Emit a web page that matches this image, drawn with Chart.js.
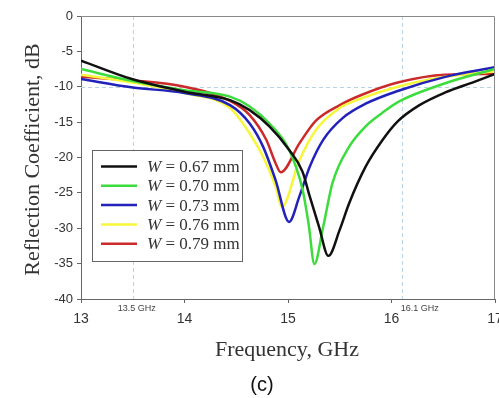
<!DOCTYPE html>
<html>
<head>
<meta charset="utf-8">
<script src="https://cdn.jsdelivr.net/npm/chart.js@4.4.0/dist/chart.umd.min.js"></script>
<style>
  html, body { margin: 0; padding: 0; background: #fff; }
  #wrap { width: 499px; height: 398px; position: relative; }
</style>
</head>
<body>
<div id="wrap"><canvas id="chart"></canvas></div>
<script>
// --- DATA ---
const freq067 = [13, 13.5, 14, 14.44, 14.63, 14.82, 15.01, 15.14, 15.21, 15.3, 15.39, 15.5, 15.59, 15.75, 15.91, 16.06, 16.27, 16.52, 16.8, 17];
const s11_067 = [-6.3, -8.95, -10.7, -11.9, -13.3, -15.6, -18.9, -22.0, -25.5, -29.8, -33.9, -30.2, -26.5, -21.3, -17.6, -14.9, -12.6, -10.8, -9.3, -8.2];

const freq070 = [13, 13.5, 14, 14.44, 14.63, 14.82, 15.01, 15.14, 15.2, 15.255, 15.34, 15.43, 15.59, 15.75, 15.91, 16.07, 16.52, 17];
const s11_070 = [-7.5, -9.2, -10.5, -11.4, -12.8, -15.2, -18.9, -24.5, -29.5, -35.05, -29.8, -23.6, -18.5, -15.6, -13.7, -12.1, -9.5, -7.5];

const freq073 = [13, 13.5, 14, 14.44, 14.63, 14.76, 14.88, 15.01, 15.11, 15.21, 15.34, 15.53, 15.75, 16.06, 16.52, 17];
const s11_073 = [-8.9, -10.1, -10.9, -12.6, -15.2, -18.5, -23.2, -29.1, -25.5, -21.3, -17.5, -14.4, -12.4, -10.6, -8.6, -7.25];

const freq076 = [13, 13.5, 14, 14.44, 14.63, 14.76, 14.88, 14.94, 15.11, 15.27, 15.5, 15.7, 16.06, 16.52, 17];
const s11_076 = [-8.3, -9.4, -10.9, -13.0, -16.6, -19.9, -24.1, -27.0, -20.4, -16.1, -13.0, -11.7, -10.0, -8.6, -7.8];

const freq079 = [13, 13.5, 14, 14.44, 14.63, 14.79, 14.88, 14.93, 15.11, 15.27, 15.5, 15.72, 16.06, 16.52, 17];
const s11_079 = [-8.6, -9.1, -10.0, -12.0, -14.0, -17.5, -20.8, -22.1, -18.0, -14.8, -12.6, -11.1, -9.4, -8.3, -8.2];

const widths = ['0.67', '0.70', '0.73', '0.76', '0.79'];
const freqs = [freq067, freq070, freq073, freq076, freq079];
const values = [s11_067, s11_070, s11_073, s11_076, s11_079];
const colors = ['#111111', '#3ddc3d', '#2222bb', '#f6f63a', '#cc2a2a'];

const refFreqs = [13.5, 16.1];
const refLabels = ['13.5 GHz', '16.1 GHz'];
const refLevel = -10;

// --- DECORATION: reference lines, frame, legend, titles ---
const decor = {
    id: 'decor',
    beforeDatasetsDraw(chart) {
        const { ctx, chartArea: a, scales: { x, y } } = chart;
        ctx.save();
        ctx.strokeStyle = '#b9d3e6';
        ctx.lineWidth = 1;
        ctx.setLineDash([4, 3]);
        refFreqs.forEach(f => {
            const px = Math.round(x.getPixelForValue(f)) + 0.5;
            ctx.beginPath(); ctx.moveTo(px, a.top); ctx.lineTo(px, a.bottom); ctx.stroke();
        });
        const py = Math.round(y.getPixelForValue(refLevel)) + 0.5;
        ctx.beginPath(); ctx.moveTo(a.left, py); ctx.lineTo(a.right, py); ctx.stroke();
        ctx.restore();
    },
    afterDraw(chart) {
        const { ctx, chartArea: a, scales: { x } } = chart;
        ctx.save();
        // frame top + right
        ctx.strokeStyle = '#8a8a8a';
        ctx.lineWidth = 1;
        ctx.beginPath();
        ctx.moveTo(a.left, a.top + 0.5); ctx.lineTo(a.right - 0.5, a.top + 0.5); ctx.lineTo(a.right - 0.5, a.bottom);
        ctx.stroke();

        // reference labels
        ctx.fillStyle = '#444';
        ctx.font = '9px "Liberation Sans", Arial, sans-serif';
        ctx.textBaseline = 'middle';
        ctx.textAlign = 'center';
        ctx.fillText(refLabels[0], x.getPixelForValue(refFreqs[0]) + 4, a.bottom + 10);
        ctx.textAlign = 'left';
        ctx.fillText(refLabels[1], x.getPixelForValue(refFreqs[1]) - 1, a.bottom + 10);

        // legend
        const bx = a.left + 11, by = a.top + 134, bw = 150, bh = 111;
        ctx.fillStyle = '#fff';
        ctx.fillRect(bx, by, bw, bh);
        ctx.strokeStyle = '#666';
        ctx.strokeRect(bx + 0.5, by + 0.5, bw, bh);
        widths.forEach((w, i) => {
            const ry = by + 16.5 + i * 19.3;
            ctx.strokeStyle = colors[i];
            ctx.lineWidth = 2.5;
            ctx.beginPath(); ctx.moveTo(bx + 9, ry); ctx.lineTo(bx + 45, ry); ctx.stroke();
            ctx.fillStyle = '#333';
            ctx.textAlign = 'left';
            ctx.font = 'italic 17px "Liberation Serif", "Times New Roman", serif';
            ctx.fillText('W', bx + 55, ry + 1);
            const ww = ctx.measureText('W').width;
            ctx.font = '17px "Liberation Serif", "Times New Roman", serif';
            ctx.fillText(' = ' + w + ' mm', bx + 55 + ww, ry + 1);
        });

        // axis titles and caption
        ctx.fillStyle = '#333';
        ctx.textAlign = 'center';
        ctx.font = '22px "Liberation Serif", "Times New Roman", serif';
        ctx.fillText('Frequency, GHz', 287, a.bottom + 51);
        ctx.save();
        ctx.translate(a.left - 48, (a.top + a.bottom) / 2 + 2);
        ctx.rotate(-Math.PI / 2);
        ctx.fillText('Reflection Coefficient, dB', 0, 0);
        ctx.restore();
        ctx.fillStyle = '#111';
        ctx.font = '20px "Liberation Sans", Arial, sans-serif';
        ctx.fillText('(c)', 262, a.bottom + 86);
        ctx.restore();
    }
};

const datasets = widths.map((w, i) => ({
    label: 'W = ' + w + ' mm',
    data: freqs[i].map((f, k) => ({ x: f, y: values[i][k] })),
    borderColor: colors[i],
    borderWidth: 2.5,
    pointRadius: 0,
    fill: false,
    cubicInterpolationMode: 'monotone'
}));

new Chart(document.getElementById('chart'), {
    type: 'line',
    data: { datasets: datasets },
    options: {
        responsive: true,
        maintainAspectRatio: false,
        animation: false,
        layout: { padding: { left: 0, right: 4, top: 16, bottom: 0 } },
        plugins: { legend: { display: false }, tooltip: { enabled: false } },
        scales: {
            x: {
                type: 'linear',
                min: 13, max: 17,
                ticks: { stepSize: 1, color: '#333', padding: 8, font: { size: 14, family: '"Liberation Sans", Arial, sans-serif' } },
                grid: { drawOnChartArea: false, drawTicks: true, tickLength: 4, color: '#666' },
                border: { display: true, color: '#666' },
                afterFit(s) { s.height = 99; s.paddingLeft = 0; s.paddingRight = 0; }
            },
            y: {
                min: -40, max: 0,
                ticks: { stepSize: 5, color: '#333', padding: 4, font: { size: 13, family: '"Liberation Sans", Arial, sans-serif' } },
                grid: { drawOnChartArea: false, drawTicks: true, tickLength: 4, color: '#666' },
                border: { display: true, color: '#666' },
                afterFit(s) { s.width = 81; s.paddingTop = 0; s.paddingBottom = 0; }
            }
        }
    },
    plugins: [decor]
});
</script>
</body>
</html>
